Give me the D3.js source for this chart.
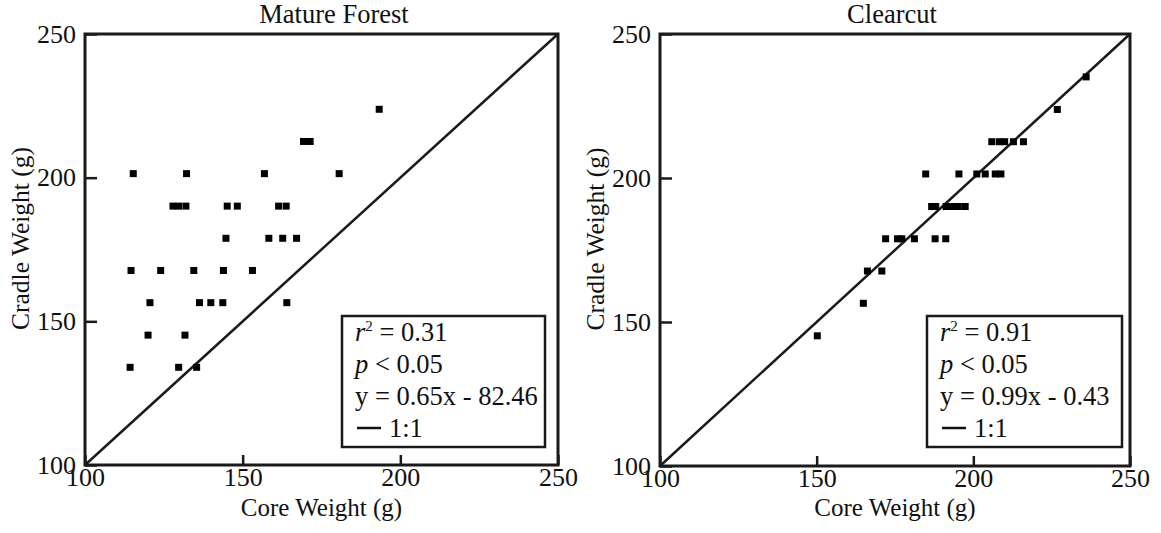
<!DOCTYPE html>
<html>
<head>
<meta charset="utf-8">
<script src="https://cdn.jsdelivr.net/npm/d3@7"></script>
<style>
  body { margin: 0; background: #fff; }
  svg { display: block; font-family: "Liberation Serif", "Times New Roman", serif; }
</style>
</head>
<body>
<svg></svg>
<script>
const width = 1161;
const height = 533;

// Mature forest: core weight, cradle weight (g)
const matureCore = [193.3,
  169.3, 171.4,
  115.3, 132.2, 156.9, 180.6,
  127.9, 129.7, 132.0, 145.1, 148.3, 161.4, 163.8,
  144.7, 158.3, 162.7, 167.1,
  114.6, 124.0, 134.5, 143.9, 153.1,
  120.6, 136.3, 139.9, 143.7, 164.0,
  120.0, 131.7,
  114.3, 129.7, 135.4];
const matureCradle = [223.8,
  212.6, 212.6,
  201.4, 201.4, 201.4, 201.4,
  190.1, 190.1, 190.1, 190.1, 190.1, 190.1, 190.1,
  178.9, 178.9, 178.9, 178.9,
  167.7, 167.7, 167.7, 167.7, 167.7,
  156.5, 156.5, 156.5, 156.5, 156.5,
  145.2, 145.2,
  134.0, 134.0, 134.0];

// Clearcut: core weight, cradle weight (g)
const clearCore = [236.0, 226.8,
  205.9, 208.3, 210.0, 212.8, 216.0,
  184.8, 195.4, 201.1, 203.8, 207.0, 208.8,
  186.7, 188.0, 191.3, 193.2, 195.2, 197.4,
  172.0, 175.8, 177.2, 181.2, 187.8, 191.2,
  166.2, 170.8,
  164.9,
  150.2];
const clearCradle = [235.1, 223.8,
  212.6, 212.6, 212.6, 212.6, 212.6,
  201.4, 201.4, 201.4, 201.4, 201.4, 201.4,
  190.1, 190.1, 190.1, 190.1, 190.1, 190.1,
  178.9, 178.9, 178.9, 178.9, 178.9, 178.9,
  167.7, 167.7,
  156.5,
  145.2];

const tickValues = [100, 150, 200, 250];
const titles = ["Mature Forest", "Clearcut"];
const legendMature = ["0.31", "0.05", "y = 0.65x - 82.46", "1:1"];
const legendClear = ["0.91", "0.05", "y = 0.99x - 0.43", "1:1"];

const svg = d3.select("svg")
  .attr("width", width)
  .attr("height", height);

const fs = "26px";

const panels = [
  { left: 85, right: 558, top: 34, bottom: 465, core: matureCore, cradle: matureCradle,
    title: titles[0], titleX: 334, legend: legendMature, box: [342, 316, 203, 131] },
  { left: 660, right: 1130, top: 34, bottom: 466, core: clearCore, cradle: clearCradle,
    title: titles[1], titleX: 892, legend: legendClear, box: [927, 316, 195, 131] }
];

panels.forEach(p => {
  const x = d3.scaleLinear().domain([100, 250]).range([p.left, p.right]);
  const y = d3.scaleLinear().domain([100, 250]).range([p.bottom, p.top]);
  const g = svg.append("g");

  // Ejes con ticks hacia dentro
  const xAxis = d3.axisBottom(x).tickValues(tickValues).tickSizeInner(-10).tickSizeOuter(0).tickPadding(3);
  const yAxis = d3.axisLeft(y).tickValues(tickValues).tickSizeInner(-12).tickSizeOuter(0).tickPadding(9);

  const gx = g.append("g")
    .attr("transform", `translate(0,${p.bottom})`)
    .call(xAxis);
  const gy = g.append("g")
    .attr("transform", `translate(${p.left},0)`)
    .call(yAxis);

  [gx, gy].forEach(a => {
    a.select(".domain").remove();
    a.selectAll(".tick line").attr("stroke", "#1a1a1a").attr("stroke-width", 2.5);
    a.selectAll(".tick text")
      .attr("fill", "#111")
      .style("font-family", "Liberation Serif")
      .style("font-size", fs);
  });

  // Marco
  g.append("rect")
    .attr("x", p.left)
    .attr("y", p.top)
    .attr("width", p.right - p.left)
    .attr("height", p.bottom - p.top)
    .attr("fill", "none")
    .attr("stroke", "#1a1a1a")
    .attr("stroke-width", 3);

  // Linea 1:1
  g.append("line")
    .attr("x1", x(100)).attr("y1", y(100))
    .attr("x2", x(250)).attr("y2", y(250))
    .attr("stroke", "#1a1a1a")
    .attr("stroke-width", 2.5);

  // Puntos
  const pts = p.core.map((c, i) => ({ core: c, cradle: p.cradle[i] }));
  g.selectAll("rect.pt")
    .data(pts)
    .join("rect")
    .attr("class", "pt")
    .attr("x", d => x(d.core) - 3.5)
    .attr("y", d => y(d.cradle) - 3.5)
    .attr("width", 7)
    .attr("height", 7)
    .attr("fill", "#000");

  // Titulo
  g.append("text")
    .attr("x", p.titleX)
    .attr("y", 23)
    .attr("text-anchor", "middle")
    .style("font-size", "26.5px")
    .attr("fill", "#111")
    .text(p.title);

  // Etiquetas de ejes
  g.append("text")
    .attr("x", (p.left + p.right) / 2)
    .attr("y", 516)
    .attr("text-anchor", "middle")
    .style("font-size", "25px")
    .attr("fill", "#111")
    .text("Core Weight (g)");

  g.append("text")
    .attr("transform", `translate(${p.left - 56},${(p.top + p.bottom) / 2 - 11}) rotate(-90)`)
    .attr("text-anchor", "middle")
    .style("font-size", "25.5px")
    .attr("fill", "#111")
    .text("Cradle Weight (g)");

  // Leyenda
  const [bx, by, bw, bh] = p.box;
  g.append("rect")
    .attr("x", bx).attr("y", by)
    .attr("width", bw).attr("height", bh)
    .attr("fill", "#fff")
    .attr("stroke", "#1a1a1a")
    .attr("stroke-width", 2.5);

  const tx = bx + 13;
  const lf = "26.5px";
  const t1 = g.append("text").attr("x", tx).attr("y", by + 25)
    .style("font-size", lf).attr("fill", "#111");
  t1.append("tspan").style("font-style", "italic").text("r");
  t1.append("tspan").attr("dy", -10).style("font-size", "15px").text("2");
  t1.append("tspan").attr("dy", 10).text(" = " + p.legend[0]);

  const t2 = g.append("text").attr("x", tx).attr("y", by + 57)
    .style("font-size", lf).attr("fill", "#111");
  t2.append("tspan").style("font-style", "italic").text("p");
  t2.append("tspan").text(" < " + p.legend[1]);

  g.append("text").attr("x", tx).attr("y", by + 89)
    .style("font-size", lf).attr("fill", "#111")
    .text(p.legend[2]);

  g.append("line")
    .attr("x1", tx + 2).attr("x2", tx + 26)
    .attr("y1", by + 112).attr("y2", by + 112)
    .attr("stroke", "#111").attr("stroke-width", 2.5);
  g.append("text").attr("x", tx + 34).attr("y", by + 121)
    .style("font-size", lf).attr("fill", "#111")
    .text(p.legend[3]);
});
</script>
</body>
</html>
